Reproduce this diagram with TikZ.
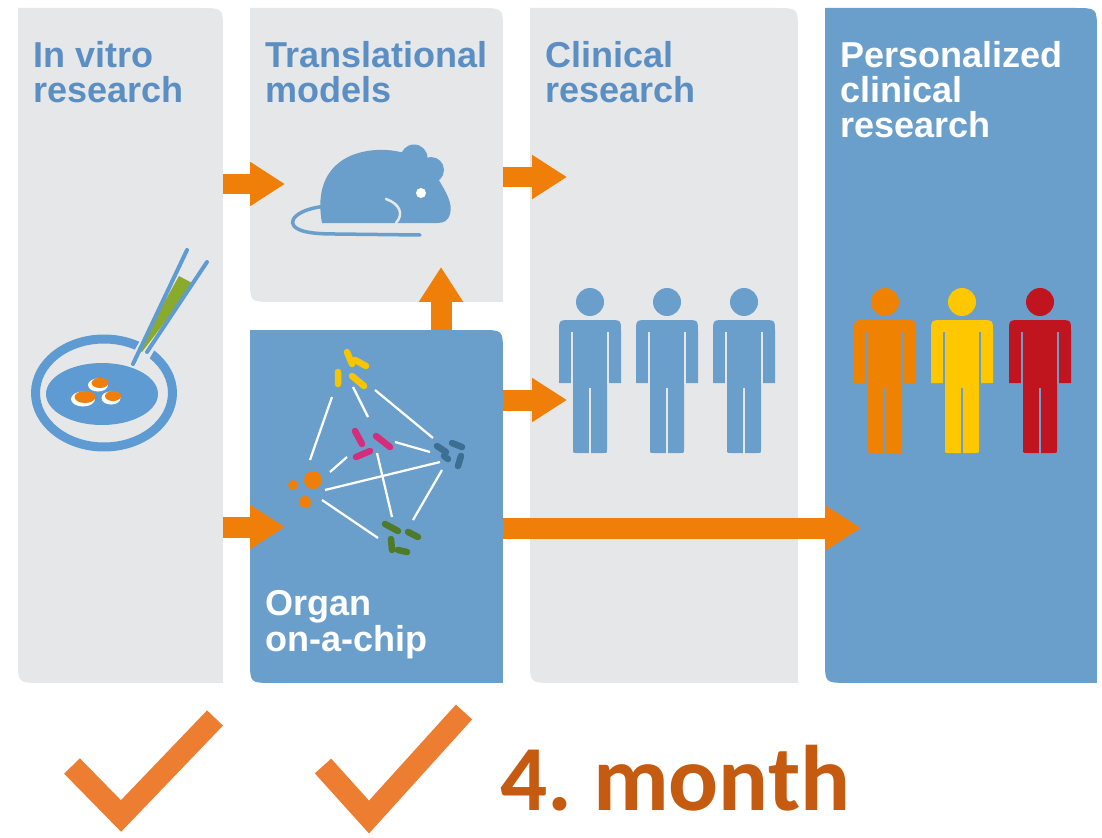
\documentclass[tikz,border=0pt]{standalone}
\usepackage{fontspec}
\setmainfont{Liberation Sans}
\newfontfamily\monthfont{Carlito}
\usetikzlibrary{arrows.meta,positioning,backgrounds}
\definecolor{labgray}{HTML}{E6E7E8}
\definecolor{labblue}{HTML}{6A9FCC}
\definecolor{labink}{HTML}{5B8FC3}
\definecolor{dishblue}{HTML}{5E9BD2}
\definecolor{laborange}{HTML}{F07F0A}
\definecolor{tickorange}{HTML}{ED7D31}
\definecolor{monthbrown}{HTML}{C55A11}
\definecolor{figorange}{HTML}{EF8200}
\definecolor{figyellow}{HTML}{FFC700}
\definecolor{figred}{HTML}{C0141E}
\definecolor{cellyellow}{HTML}{F8C600}
\definecolor{cellpink}{HTML}{D62C7C}
\definecolor{cellteal}{HTML}{3D6F95}
\definecolor{cellgreen}{HTML}{4E7A2A}
\definecolor{tipgreen}{HTML}{8AAA2E}
% panel fill: rounded top right and bottom left corners only
\newcommand\leaf[2]{%
  \fill[#2] (#1.north west) -- ([xshift=-0.45cm]#1.north east) .. controls (#1.north east) .. ([yshift=-0.45cm]#1.north east)
    -- (#1.south east) -- ([xshift=0.45cm]#1.south west) .. controls (#1.south west) .. ([yshift=0.45cm]#1.south west) -- cycle;}
\tikzset{
  panel/.style={anchor=north west, inner sep=0, outer sep=0},
  ttl/.style={anchor=north west, inner sep=0, align=left, text=labink, font=\bfseries\fontsize{20.5pt}{20pt}\selectfont},
  flow/.style={-{Triangle[length=0.7cm, width=0.84cm]}, line width=0.42cm, color=laborange},
  link/.style={white, line width=0.045cm},
  bean/.style={line width=0.13cm, line cap=round},
  tick/.style={tickorange, line width=0.44cm, line join=miter},
  monthtxt/.style={inner sep=0, text=monthbrown, font=\monthfont\bfseries\fontsize{53pt}{60pt}\selectfont},
  pics/person/.style 2 args={code={
    \fill[#1] (0,0) circle[radius=0.28cm];
    \fill[#1] (-31,81) -- (-31,30) .. controls (-31,18) .. (-19,18) -- (19,18) .. controls (31,18) .. (31,30) -- (31,81) -- cycle;
    \fill[#1] (-17,78) -- (17,78) -- (17,147) .. controls (17,151) .. (13,151) -- (-13,151) .. controls (-17,151) .. (-17,147) -- cycle;
    \draw[#2, line width=0.04cm] (-18,30) -- (-18,82) (18,30) -- (18,82) (0,86) -- (0,152);
  }},
}
\begin{document}
\begin{tikzpicture}[x=0.02cm, y=-0.02cm]
  % the five stages
  \node[panel, minimum width=4.10cm, minimum height=13.5cm] (vitro) at (18,8) {};
  \node[panel, minimum width=5.06cm, minimum height=5.88cm] (transl) at (250,8) {};
  \node[panel, minimum width=5.06cm, minimum height=7.06cm] (chip) at (250,330) {};
  \node[panel, minimum width=5.36cm, minimum height=13.5cm] (clin) at (530,8) {};
  \node[panel, minimum width=5.44cm, minimum height=13.5cm] (pers) at (825,8) {};
  \begin{scope}[on background layer]
    \fill[white] (0,0) rectangle (1102,838);
    \leaf{vitro}{labgray} \leaf{transl}{labgray} \leaf{chip}{labblue}
    \leaf{clin}{labgray} \leaf{pers}{labblue}
  \end{scope}
  \node[ttl, below right=0.66cm and 0.3cm of vitro.north west] (vitrottl) {In vitro\\research};
  \node[ttl, below right=0.66cm and 0.3cm of transl.north west] (transttl) {Translational\\models};
  \node[ttl, below right=0.66cm and 0.3cm of clin.north west] (clinttl) {Clinical\\research};
  \node[ttl, text=white, below right=0.66cm and 0.3cm of pers.north west] (persttl) {Personalized\\clinical\\research};
  \node[ttl, text=white, anchor=south west, above right=0.48cm and 0.3cm of chip.south west] (chipttl) {Organ\\on-a-chip};

  % petri dish and pipette
  \draw[dishblue, line width=0.18cm] (104,393) ellipse[x radius=1.37cm, y radius=1.08cm];
  \fill[dishblue] (102,394) ellipse[x radius=1.12cm, y radius=0.62cm];
  \foreach \cx/\cy/\rx/\ry in {100/383/0.2/0.13, 85/397/0.24/0.15, 113/396/0.19/0.13} {
    \fill[white] (\cx-2,\cy+2) ellipse[x radius=\rx cm, y radius=\ry cm];
    \fill[laborange] (\cx,\cy) ellipse[x radius=\rx cm-0.03cm, y radius=\ry cm-0.03cm];
  }
  \draw[labgray, line width=0.34cm] (197,258) -- (140,358);
  \fill[tipgreen] (179,276) -- (194,284) -- (142,352) -- (138,349) -- cycle;
  \draw[dishblue, line width=0.08cm, line cap=round] (187,250) -- (133,364) (207,262) -- (147,352);

  % mouse
  \fill[labblue] (322,223) .. controls (312,168) and (348,148) .. (387,150) .. controls (412,152) and (428,162) .. (437,177)
    .. controls (446,192) and (453,203) .. (450,214) .. controls (448,221) and (444,223) .. (437,223) -- cycle;
  \fill[labblue] (414,158) circle[radius=0.27cm] (431,170) circle[radius=0.26cm];
  \fill[white] (421,193) circle[radius=0.1cm];
  \draw[labgray, line width=0.05cm, line cap=round] (386,199) .. controls (400,204) and (404,214) .. (396,223);
  \draw[labblue, line width=0.07cm, line cap=round] (328,206) .. controls (298,208) and (284,222) .. (298,229)
    .. controls (305,233) and (320,234) .. (335,234) -- (420,235);

  % organ network
  \draw[link] (332,397) -- (310,460) (353,387) -- (368,417) (375,390) -- (433,438)
    (395,442) -- (430,452) (347,457) -- (330,472) (377,453) -- (392,517)
    (325,490) -- (440,462) (322,500) -- (378,538) (442,470) -- (413,520);
  \draw[bean, cellyellow] (347,352) -- (352,364) (355,360) -- (366,366) (338,372) -- (338,384) (352,376) -- (364,386);
  \draw[bean, cellpink] (355,431) -- (362,444) (376,436) -- (390,447) (356,457) -- (370,451);
  \draw[bean, cellteal] (437,446) -- (446,452) (452,443) -- (462,447) (461,456) -- (458,466) (444,456) -- (448,459);
  \draw[bean, cellgreen] (385,524) -- (398,531) (391,539) -- (392,550) (398,550) -- (407,552) (408,532) -- (418,537);
  \fill[laborange] (313,480) circle[radius=0.18cm] (293,485) circle[radius=0.1cm] (305,502) circle[radius=0.12cm];

  % people
  \foreach \px in {590,667,744} \pic at (\px,302) {person={labblue}{labgray}};
  \foreach \px/\pc in {885/figorange,962/figyellow,1040/figred} \pic at (\px,302) {person={\pc}{labblue}};

  % arrows between the stages
  \coordinate (t1) at (285,184);
  \coordinate (t2) at (567,177);
  \coordinate (t3) at (441,267);
  \coordinate (t4) at (567,400);
  \coordinate (t5) at (285,527);
  \coordinate (t6) at (861,528);
  \draw[flow] (vitro.east |- t1) -- (t1);
  \draw[flow] (transl.east |- t2) -- (t2);
  \draw[flow] (t3 |- chip.north) -- (t3);
  \draw[flow] (chip.east |- t4) -- (t4);
  \draw[flow] (vitro.east |- t5) -- (t5);
  \draw[flow] (chip.east |- t6) -- (t6);

  % done so far
  \draw[tick] (72,766) -- (121,816) -- (215,718);
  \draw[tick] (323,766) -- (369,817) -- (464,712);
  \node[monthtxt, anchor=base west] (month) at (500,810) {4.\hspace{-0.08em} month};
\end{tikzpicture}
\end{document}
